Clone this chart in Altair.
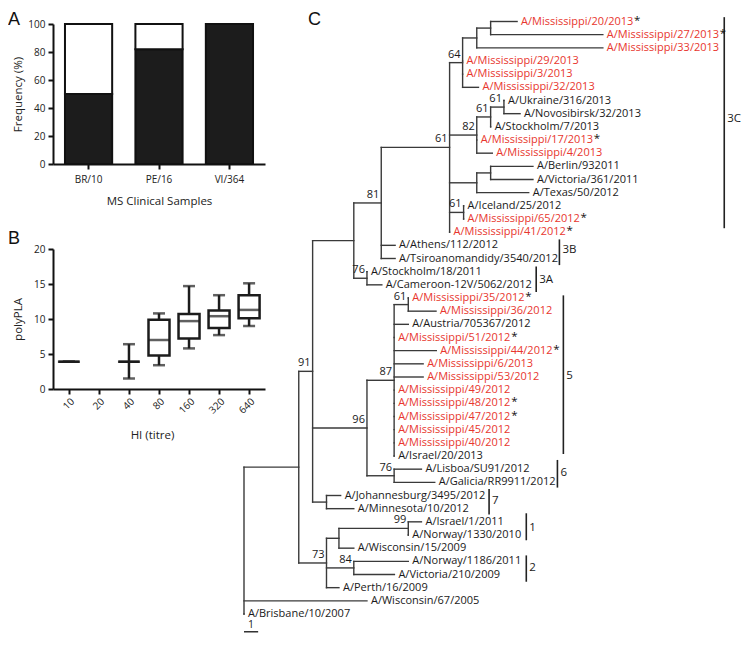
import altair as alt
import pandas as pd

# ---------------- Panel A : frequency of polyPLA-positive samples ----------------
samples = ["BR/10", "PE/16", "VI/364"]
positive_pct = [50, 82, 100]

# ---------------- Panel B : polyPLA vs HI titre (box plots) ----------------
titres = ["10", "20", "40", "80", "160", "320", "640"]
box_titres = ["10", "40", "80", "160", "320", "640"]
box_min = [3.9, 1.5, 3.4, 5.8, 7.7, 9.0]
box_q1 = [3.9, 3.9, 4.8, 7.2, 8.7, 10.1]
box_median = [3.9, 3.9, 7.0, 9.7, 10.4, 11.3]
box_q3 = [3.9, 3.9, 9.9, 10.7, 11.2, 13.4]
box_max = [3.9, 6.4, 10.8, 14.7, 13.4, 15.1]

# ---------------- Panel C : phylogenetic tree ----------------
leaf_names = [
    "A/Mississippi/20/2013", "A/Mississippi/27/2013", "A/Mississippi/33/2013",
    "A/Mississippi/29/2013", "A/Mississippi/3/2013", "A/Mississippi/32/2013",
    "A/Ukraine/316/2013", "A/Novosibirsk/32/2013", "A/Stockholm/7/2013",
    "A/Mississippi/17/2013", "A/Mississippi/4/2013", "A/Berlin/932011",
    "A/Victoria/361/2011", "A/Texas/50/2012", "A/Iceland/25/2012",
    "A/Mississippi/65/2012", "A/Mississippi/41/2012", "A/Athens/112/2012",
    "A/Tsiroanomandidy/3540/2012", "A/Stockholm/18/2011", "A/Cameroon-12V/5062/2012",
    "A/Mississippi/35/2012", "A/Mississippi/36/2012", "A/Austria/705367/2012",
    "A/Mississippi/51/2012", "A/Mississippi/44/2012", "A/Mississippi/6/2013",
    "A/Mississippi/53/2012", "A/Mississippi/49/2012", "A/Mississippi/48/2012",
    "A/Mississippi/47/2012", "A/Mississippi/45/2012", "A/Mississippi/40/2012",
    "A/Israel/20/2013", "A/Lisboa/SU91/2012", "A/Galicia/RR9911/2012",
    "A/Johannesburg/3495/2012", "A/Minnesota/10/2012", "A/Israel/1/2011",
    "A/Norway/1330/2010", "A/Wisconsin/15/2009", "A/Norway/1186/2011",
    "A/Victoria/210/2009", "A/Perth/16/2009", "A/Wisconsin/67/2005",
    "A/Brisbane/10/2007",
]
leaf_parent = [
    "nA", "nA", "nB", "n64", "n64", "n64", "n61b", "n61b", "n61a", "n82", "n82",
    "nD", "nD", "nC", "n61c", "n61c", "n61", "n81", "n81", "n76", "n76",
    "n61d", "n61d", "n87", "n87", "n87", "n87", "n87", "n87", "n87", "n87", "n87", "n87", "n87",
    "n76b", "n76b", "n7", "n7", "n99", "n99", "nF", "n84", "n84", "n73", "root", "root",
]
leaf_dist = [
    19.30, 25.36, 25.36, 15.45, 15.45, 16.57, 18.37, 19.51, 17.43, 16.45, 17.55,
    20.42, 20.42, 20.12, 15.52, 15.52, 14.53, 10.68, 10.68, 8.69, 9.74,
    11.61, 13.57, 11.61, 10.61, 13.59, 12.66, 12.66, 10.61, 10.61, 10.61, 10.61, 10.61, 10.61,
    12.54, 13.48, 6.83, 7.76, 12.54, 11.61, 7.76, 11.61, 10.63, 6.71, 8.69, 0.0,
]
leaf_mississippi = [n.startswith("A/Mississippi") for n in leaf_names]
leaf_star = [
    1, 1, 0, 0, 0, 0, 0, 0, 0, 1, 0, 0, 0, 0, 0, 1, 1, 0, 0, 0, 0,
    1, 0, 0, 1, 1, 0, 0, 0, 1, 1, 0, 0, 0, 0, 0, 0, 0, 0, 0, 0, 0, 0, 0, 0, 0,
]

node_ids = ["root", "nX", "n91", "nE", "n81", "n61", "n64", "nB", "nA", "n82", "n61a", "n61b",
            "nC", "nD", "n61c", "n76", "n96", "n87", "n61d", "n76b", "n7", "n73", "nF", "n99", "n84"]
node_parent = ["", "root", "nX", "n91", "nE", "n81", "n61", "n64", "nB", "n61", "n82", "n61a",
               "n61", "nC", "n61", "nE", "n91", "n96", "n87", "n96", "n91", "nX", "n73", "nF", "n73"]
node_dist = [0.0, 3.87, 4.85, 7.76, 9.70, 14.53, 15.45, 16.45, 17.43, 16.45, 17.43, 18.37,
             16.45, 17.43, 15.52, 8.69, 8.69, 10.61, 11.61, 10.61, 5.83, 5.83, 6.71, 11.61, 7.76]
node_support = [0, 0, 91, 0, 81, 61, 64, 0, 0, 82, 61, 61,
                0, 0, 61, 76, 96, 87, 61, 76, 0, 73, 0, 99, 84]

clade_names = ["3C", "3B", "3A", "5", "6", "7", "1", "2"]
clade_x = [33.94, 22.29, 20.65, 22.57, 22.15, 17.32, 19.95, 19.95]
clade_from = [-0.33, 16.55, 18.6, 20.8, 33.3, 35.5, 37.35, 40.55]
clade_to = [15.7, 18.5, 20.55, 32.85, 35.4, 37.45, 39.4, 42.55]
clade_label_row = [7.37, 17.35, 19.6, 26.95, 34.3, 36.45, 38.5, 41.5]

scale_bar_length = [1]
scale_bar_row = [46.35]

# ---------------- layout / style ----------------
W, H = 734, 626
FONT = "Open Sans"
INK = "#1c1c1c"
RED = "#e8362e"
TREE = "#3a3a3a"
TFS = 11          # tree label font size
STAR_DX = 117     # offset of the asterisk after an "A/Mississippi/nn/yyyy" label

axis_common = dict(grid=False, domainColor="#111111", domainWidth=2, tickColor="#111111",
                   tickWidth=2, tickSize=5, labelColor="#222222", titleColor="#222222",
                   labelFont=FONT, titleFont=FONT, labelFontSize=10, titleFontSize=11.5,
                   titleFontWeight="normal", labelOverlap=False, labelFlush=False)

# ---------- Panel A ----------
dfA = pd.DataFrame({
    "sample": samples * 2,
    "part": ["positive"] * len(samples) + ["negative"] * len(samples),
    "lo": [0] * len(samples) + positive_pct,
    "hi": positive_pct + [100] * len(samples),
})
panelA = alt.Chart(dfA).mark_bar(stroke="#111111", strokeWidth=2).encode(
    x=alt.X("sample:N",
            scale=alt.Scale(domain=samples, range=[45, 257], paddingInner=0.33, paddingOuter=0.17),
            axis=alt.Axis(orient="bottom", offset=-(H - 156), labelAngle=0, labelPadding=5,
                          title="MS Clinical Samples", titleX=151, titleY=31,
                          titleBaseline="top", titleAlign="center", **axis_common)),
    y=alt.Y("lo:Q", scale=alt.Scale(domain=[0, 100], range=[156, 16], nice=False, zero=False),
            axis=alt.Axis(orient="left", offset=-45, values=[0, 20, 40, 60, 80, 100],
                          labelPadding=3, title="Frequency (%)", titleX=-30, titleY=86,
                          titleAngle=-90, titleBaseline="bottom", titleAlign="center",
                          **axis_common)),
    y2="hi:Q",
    fill=alt.Fill("part:N", scale=alt.Scale(domain=["positive", "negative"], range=[INK, "#ffffff"]),
                  legend=None),
)

# ---------- Panel B ----------
dfB = pd.DataFrame({"titre": box_titres, "lo": box_min, "q1": box_q1, "med": box_median,
                    "q3": box_q3, "hi": box_max})
xB_scale = alt.Scale(type="point", domain=titres, range=[45, 257], padding=0.53)
yB_scale = alt.Scale(domain=[0, 20], range=[381, 241], nice=False, zero=False)
baseB = alt.Chart(dfB)
whisk = baseB.mark_rule(color=INK, strokeWidth=2.5).encode(
    x=alt.X("titre:N", scale=xB_scale,
            axis=alt.Axis(orient="bottom", offset=-(H - 381), labelAngle=-45, labelPadding=2,
                          title="HI (titre)", titleX=144, titleY=40, titleBaseline="top",
                          titleAlign="center", **axis_common)),
    y=alt.Y("lo:Q", scale=yB_scale,
            axis=alt.Axis(orient="left", offset=-45, values=[0, 5, 10, 15, 20], labelPadding=3,
                          title="polyPLA", titleX=-30, titleY=311, titleAngle=-90,
                          titleBaseline="bottom", titleAlign="center", **axis_common)),
    y2="hi:Q",
)
boxes = baseB.mark_bar(size=21, fill="#ffffff", stroke=INK, strokeWidth=2.5).encode(
    x=alt.X("titre:N", scale=xB_scale, axis=None),
    y=alt.Y("q1:Q", scale=yB_scale, axis=None), y2="q3:Q")
medians = baseB.mark_tick(size=22, thickness=2.5, color=INK).encode(
    x=alt.X("titre:N", scale=xB_scale, axis=None),
    y=alt.Y("med:Q", scale=yB_scale, axis=None))
caps_lo = baseB.mark_tick(size=12, thickness=2.5, color=INK).encode(
    x=alt.X("titre:N", scale=xB_scale, axis=None),
    y=alt.Y("lo:Q", scale=yB_scale, axis=None))
caps_hi = baseB.mark_tick(size=12, thickness=2.5, color=INK).encode(
    x=alt.X("titre:N", scale=xB_scale, axis=None),
    y=alt.Y("hi:Q", scale=yB_scale, axis=None))

# ---------- Panel C : compute tree layout ----------
parent_of = {}
dist_of = {}
for n, p, d in zip(leaf_names, leaf_parent, leaf_dist):
    parent_of[n], dist_of[n] = p, d
for n, p, d in zip(node_ids, node_parent, node_dist):
    parent_of[n], dist_of[n] = p, d
children = {n: [] for n in node_ids}
for n, p in parent_of.items():
    if p:
        children[p].append(n)
row_of = {n: i for i, n in enumerate(leaf_names)}
ycache = {}


def node_y(n):
    if n in row_of:
        return float(row_of[n])
    if n not in ycache:
        ys = [node_y(c) for c in children[n]]
        ycache[n] = (min(ys) + max(ys)) / 2.0
    return ycache[n]


segs = []
for n, p in parent_of.items():
    if p:
        segs.append({"x": dist_of[p], "x2": dist_of[n], "y": node_y(n), "y2": node_y(n)})
for n in node_ids:
    ys = [node_y(c) for c in children[n]]
    segs.append({"x": dist_of[n], "x2": dist_of[n], "y": min(ys), "y2": max(ys)})
dfSeg = pd.DataFrame(segs)

dfLeaf = pd.DataFrame({"x": leaf_dist, "y": list(range(len(leaf_names))), "label": leaf_names,
                       "ms": leaf_mississippi, "star": leaf_star})
dfStar = dfLeaf[dfLeaf["star"] == 1].assign(mark="*")
dfBlack = dfLeaf[~dfLeaf["ms"]]
dfRed = dfLeaf[dfLeaf["ms"]]

dfSup = pd.DataFrame({"x": node_dist, "y": [node_y(n) for n in node_ids], "s": node_support})
dfSup = dfSup[dfSup["s"] > 0]

dfClade = pd.DataFrame({"name": clade_names, "x": clade_x, "y": clade_from, "y2": clade_to,
                        "ly": clade_label_row})
dfScale = pd.DataFrame({"x": [0.0], "x2": scale_bar_length, "y": scale_bar_row,
                        "t": [str(v) for v in scale_bar_length]})
dfScale["xm"] = dfScale["x2"] / 2.0

xC = alt.Scale(domain=[0, 35], range=[236, 236 + 35 * 14.15], nice=False, zero=False)
yC = alt.Scale(domain=[0, 45], range=[13.5, 606], nice=False, zero=False)


def X(f):
    return alt.X(f, scale=xC, axis=None)


def Y(f):
    return alt.Y(f, scale=yC, axis=None)


branches = alt.Chart(dfSeg).mark_rule(color=TREE, strokeWidth=1.4, strokeCap="square").encode(
    x=X("x:Q"), x2="x2:Q", y=Y("y:Q"), y2="y2:Q")
black_txt = alt.Chart(dfBlack).mark_text(align="left", baseline="middle", dx=4, font=FONT,
                                         fontSize=TFS, color="#1a1a1a").encode(
    x=X("x:Q"), y=Y("y:Q"), text="label:N")
red_txt = alt.Chart(dfRed).mark_text(align="left", baseline="middle", dx=4, font=FONT,
                                     fontSize=TFS, color=RED).encode(
    x=X("x:Q"), y=Y("y:Q"), text="label:N")
star_txt = alt.Chart(dfStar).mark_text(align="left", baseline="middle", dx=STAR_DX, dy=-1,
                                       font=FONT, fontSize=TFS + 0.5, color="#111111").encode(
    x=X("x:Q"), y=Y("y:Q"), text="mark:N")
sup_txt = alt.Chart(dfSup).mark_text(align="right", baseline="middle", dx=-2, dy=-8, font=FONT,
                                     fontSize=11, color="#1a1a1a").encode(
    x=X("x:Q"), y=Y("y:Q"), text="s:Q")
clade_bars = alt.Chart(dfClade).mark_rule(color="#222222", strokeWidth=1.6).encode(
    x=X("x:Q"), y=Y("y:Q"), y2="y2:Q")
clade_txt = alt.Chart(dfClade).mark_text(align="left", baseline="middle", dx=3, font=FONT,
                                         fontSize=11.5, color="#1a1a1a").encode(
    x=X("x:Q"), y=Y("ly:Q"), text="name:N")
sbar = alt.Chart(dfScale).mark_rule(color="#222222", strokeWidth=1.4).encode(
    x=X("x:Q"), x2="x2:Q", y=Y("y:Q"))
sbar_txt = alt.Chart(dfScale).mark_text(baseline="middle", dy=-6.5, font=FONT, fontSize=10.5,
                                        color="#1a1a1a").encode(
    x=X("xm:Q"), y=Y("y:Q"), text="t:N")

# ---------- panel letters ----------


def letter(t, x, y):
    return alt.Chart(pd.DataFrame({"t": [t]})).mark_text(
        align="left", baseline="alphabetic", font="Liberation Sans", fontSize=18,
        color="#111111").encode(text="t:N", x=alt.value(x), y=alt.value(y))


chart = alt.layer(
    panelA, whisk, boxes, medians, caps_lo, caps_hi,
    branches, clade_bars, sbar, sbar_txt, black_txt, red_txt, star_txt, sup_txt, clade_txt,
    letter("A", 0, 17), letter("B", 0, 236), letter("C", 300, 17),
).resolve_scale(x="independent", y="independent", fill="independent").properties(
    width=W, height=H, padding=0, autosize=alt.AutoSizeParams(type="none"),
).configure_view(strokeWidth=0)

chart.save("out.html", embed_options={"renderer": "svg", "actions": False})
